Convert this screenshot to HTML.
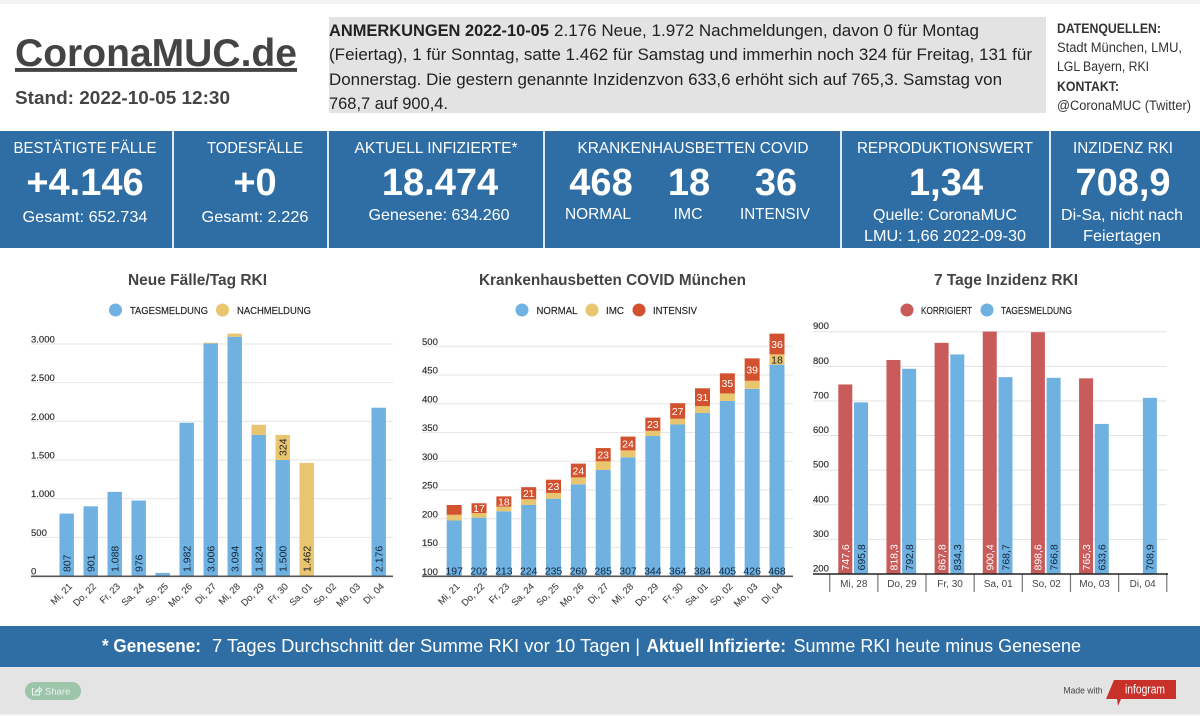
<!DOCTYPE html>
<html lang="de">
<head>
<meta charset="utf-8">
<title>CoronaMUC.de</title>
<style>
html,body{margin:0;padding:0;background:#fff;}
body{width:1200px;height:716px;overflow:hidden;position:relative;font-family:"Liberation Sans",sans-serif;}
svg{position:absolute;left:0;top:0;display:block;}
.hw{font-size:16px;fill:#fff;text-anchor:middle;}
.big{font-size:38px;font-weight:700;fill:#fff;text-anchor:middle;}
.note{font-size:17px;fill:#222;}
.src{font-size:13.5px;fill:#333;}
.ttl{font-size:16px;font-weight:700;fill:#444;text-anchor:middle;}
.leg{font-size:10px;fill:#222;stroke:#222;stroke-width:.15px;}
.yt{font-size:9.5px;fill:#333;stroke:#333;stroke-width:.2px;}
.xt{font-size:9.5px;fill:#444;stroke:#444;stroke-width:.1px;}
.val{font-size:10.5px;}
</style>
</head>
<body>
<svg id="stage" width="1200" height="716" viewBox="0 0 1200 716" xmlns="http://www.w3.org/2000/svg">
  <rect x="0" y="0" width="1200" height="4" fill="#f3f3f3"/>

  <g>
    <text x="15" y="66" font-size="38.8" font-weight="700" fill="#444" text-decoration="underline" textLength="282">CoronaMUC.de</text>
    <text x="15" y="104" font-size="18" font-weight="700" fill="#444" textLength="215">Stand: 2022-10-05 12:30</text>
  </g>

  <g>
    <rect x="329" y="17" width="717" height="96" fill="#e3e3e3"/>
    <text class="note" x="329" y="36" font-weight="700" textLength="220">ANMERKUNGEN 2022-10-05</text>
    <text class="note" x="554" y="36" textLength="425">2.176 Neue, 1.972 Nachmeldungen, davon 0 für Montag</text>
    <text class="note" x="329" y="60" textLength="703">(Feiertag), 1 für Sonntag, satte 1.462 für Samstag und immerhin noch 324 für Freitag, 131 für</text>
    <text class="note" x="329" y="85" textLength="673">Donnerstag. Die gestern genannte Inzidenzvon 633,6 erhöht sich auf 765,3. Samstag von</text>
    <text class="note" x="329" y="109" textLength="119">768,7 auf 900,4.</text>
  </g>

  <g>
    <text class="src" x="1057" y="33" font-weight="700" fill="#222" textLength="104">DATENQUELLEN:</text>
    <text class="src" x="1057" y="52" textLength="125">Stadt München, LMU,</text>
    <text class="src" x="1057" y="71" textLength="92">LGL Bayern, RKI</text>
    <text class="src" x="1057" y="91" font-weight="700" fill="#222" textLength="62">KONTAKT:</text>
    <text class="src" x="1057" y="110" textLength="134">@CoronaMUC (Twitter)</text>
  </g>

  <g>
    <rect x="0" y="131" width="1200" height="117" fill="#2f6ea5"/>
    <rect x="172" y="131" width="2" height="117" fill="#dce8f2"/>
    <rect x="327" y="131" width="2" height="117" fill="#dce8f2"/>
    <rect x="543" y="131" width="2" height="117" fill="#dce8f2"/>
    <rect x="840" y="131" width="2" height="117" fill="#dce8f2"/>
    <rect x="1049" y="131" width="2" height="117" fill="#dce8f2"/>

    <g>
      <text class="hw" x="85" y="153" textLength="143">BESTÄTIGTE FÄLLE</text>
      <text class="big" x="85" y="195">+4.146</text>
      <text class="hw" x="85" y="222" textLength="125">Gesamt: 652.734</text>
    </g>
    <g>
      <text class="hw" x="255" y="153" textLength="96">TODESFÄLLE</text>
      <text class="big" x="255" y="195">+0</text>
      <text class="hw" x="255" y="222" textLength="107">Gesamt: 2.226</text>
    </g>
    <g>
      <text class="hw" x="436" y="153" textLength="163">AKTUELL INFIZIERTE*</text>
      <text class="big" x="440" y="195">18.474</text>
      <text class="hw" x="439" y="220" textLength="141">Genesene: 634.260</text>
    </g>
    <g>
      <text class="hw" x="693" y="153" textLength="231">KRANKENHAUSBETTEN COVID</text>
      <text class="big" x="601" y="195">468</text>
      <text class="big" x="689" y="195">18</text>
      <text class="big" x="776" y="195">36</text>
      <text class="hw" x="598" y="219" textLength="66">NORMAL</text>
      <text class="hw" x="688" y="219" textLength="29">IMC</text>
      <text class="hw" x="775" y="219" textLength="70">INTENSIV</text>
    </g>
    <g>
      <text class="hw" x="945" y="153" textLength="176">REPRODUKTIONSWERT</text>
      <text class="big" x="946" y="195">1,34</text>
      <text class="hw" x="945" y="220" textLength="144">Quelle: CoronaMUC</text>
      <text class="hw" x="945" y="241" textLength="162">LMU: 1,66 2022-09-30</text>
    </g>
    <g>
      <text class="hw" x="1123" y="153" textLength="100">INZIDENZ RKI</text>
      <text class="big" x="1123" y="195">708,9</text>
      <text class="hw" x="1122" y="220" textLength="122">Di-Sa, nicht nach</text>
      <text class="hw" x="1122" y="241" textLength="78">Feiertagen</text>
    </g>
  </g>

  <g id="chart-cases">
    <text class="ttl" x="197.5" y="285" textLength="139">Neue Fälle/Tag RKI</text>
    <circle cx="115.5" cy="310" r="6.5" fill="#6fb1e0"/>
    <text class="leg" x="130" y="314" textLength="78">TAGESMELDUNG</text>
    <circle cx="222.5" cy="310" r="6.5" fill="#e8c56e"/>
    <text class="leg" x="237" y="314" textLength="74">NACHMELDUNG</text>
  </g>

  <g id="chart-beds">
    <text class="ttl" x="612.5" y="285" textLength="267">Krankenhausbetten COVID München</text>
    <circle cx="522" cy="310" r="6.5" fill="#6fb1e0"/>
    <text class="leg" x="536.5" y="314" textLength="41">NORMAL</text>
    <circle cx="592" cy="310" r="6.5" fill="#e8c56e"/>
    <text class="leg" x="606" y="314" textLength="18">IMC</text>
    <circle cx="639" cy="310" r="6.5" fill="#d2512f"/>
    <text class="leg" x="653" y="314" textLength="44">INTENSIV</text>
  </g>

  <g id="chart-incidence">
    <text class="ttl" x="1006" y="285" textLength="144">7 Tage Inzidenz RKI</text>
    <circle cx="907" cy="310" r="6.5" fill="#c95c5a"/>
    <text class="leg" x="921" y="314" textLength="51">KORRIGIERT</text>
    <circle cx="987" cy="310" r="6.5" fill="#6fb1e0"/>
    <text class="leg" x="1001" y="314" textLength="71">TAGESMELDUNG</text>
  </g>

  <g>
    <rect x="0" y="626" width="1200" height="41" fill="#2f6ea5"/>
    <text x="102" y="652" font-size="18" font-weight="700" fill="#fff" textLength="99">* Genesene:</text>
    <text x="212" y="652" font-size="18" fill="#fff" textLength="428">7 Tages Durchschnitt der Summe RKI vor 10 Tagen |</text>
    <text x="646.5" y="652" font-size="18" font-weight="700" fill="#fff" textLength="139.5">Aktuell Infizierte:</text>
    <text x="793.5" y="652" font-size="18" fill="#fff" textLength="287.5">Summe RKI heute minus Genesene</text>
  </g>

  <g>
    <rect x="0" y="667" width="1200" height="47" fill="#e4e4e4"/>
    <rect x="0" y="714" width="1200" height="2" fill="#f3f3f3"/>
    <g>
      <rect x="25" y="682" width="56" height="18" rx="9" fill="#9cc5aa"/>
      <path d="M33.5 688.5h-1v6.5h7v-2M35.5 692c.5-2 2-3 4-3v-1.5l2.5 2.5-2.5 2.5v-1.8c-1.5 0-3 .3-4 1.8z" fill="none" stroke="#e9f3ec" stroke-width="1"/>
      <text x="45" y="694.5" font-size="9.5" fill="#e9f3ec">Share</text>
    </g>
    <text x="1063.5" y="693.5" font-size="9" fill="#444" textLength="39">Made with</text>
    <g>
      <polygon points="1114,680 1176,680 1176,699 1121,699 1118,706 1117,699 1106,699" fill="#c8302a"/>
      <text x="1125" y="693.5" font-size="13" fill="#fff" textLength="40">infogram</text>
    </g>
  </g>
</svg>

<script>
const NS = 'http://www.w3.org/2000/svg';

/* ---------- chart 1: new cases ---------- */
const casesDays = ['Mi, 21','Do, 22','Fr, 23','Sa, 24','So, 25','Mo, 26','Di, 27','Mi, 28','Do, 29','Fr, 30','Sa, 01','So, 02','Mo, 03','Di, 04'];
const casesDaily = [807,901,1088,976,40,1982,3006,3094,1824,1500,0,0,0,2176];
const casesLate = [0,0,0,0,0,0,10,40,131,324,1462,0,0,0];
const casesTicks = [0,500,1000,1500,2000,2500,3000];
const casesTickLabels = ['0','500','1.000','1.500','2.000','2.500','3.000'];
const casesDailyLabels = ['807','901','1.088','976','','1.982','3.006','3.094','1.824','1.500','','','','2.176'];
const casesLateLabels = ['','','','','','','','','','324','1.462','','',''];

/* ---------- chart 2: hospital beds ---------- */
const bedsDays = ['Mi, 21','Do, 22','Fr, 23','Sa, 24','So, 25','Mo, 26','Di, 27','Mi, 28','Do, 29','Fr, 30','Sa, 01','So, 02','Mo, 03','Di, 04'];
const bedsNormal = [197,202,213,224,235,260,285,307,344,364,384,405,426,468];
const bedsImc = [10,8,8,10,10,12,15,12,9,10,12,13,14,18];
const bedsIntensive = [17,17,18,21,23,24,23,24,23,27,31,35,39,36];
const bedsTicks = [100,150,200,250,300,350,400,450,500];
const bedsImcLabels = ['','','','','','','','','','','','','','18'];
const bedsIntensiveLabels = ['','17','18','21','23','24','23','24','23','27','31','35','39','36'];

/* ---------- chart 3: incidence ---------- */
const incidenceDays = ['Mi, 28','Do, 29','Fr, 30','Sa, 01','So, 02','Mo, 03','Di, 04'];
const incidenceCorrected = [747.6,818.3,867.8,900.4,898.6,765.3,null];
const incidenceDaily = [695.8,792.8,834.3,768.7,766.8,633.6,708.9];
const incidenceTicks = [200,300,400,500,600,700,800,900];

const BLUE = '#6fb1e0', YELLOW = '#e8c56e', ORANGE = '#d2512f', RED = '#c95c5a', INK = '#10263c';

document.querySelectorAll('text[textLength]').forEach(n => n.setAttribute('lengthAdjust', 'spacingAndGlyphs'));

function svgEl(tag, parent, attrs) {
  const node = document.createElementNS(NS, tag);
  for (const k in attrs) node.setAttribute(k, attrs[k]);
  parent.appendChild(node);
  return node;
}
function deFmt(v) { return v.toFixed(1).replace('.', ','); }

const yCases = v => 576 - v * (232 / 3000);
const xCases = i => 66.7 + i * 24;
const yBeds = v => 576.3 - (v - 100) * 0.575;
const xBeds = i => 454.2 + i * 24.83;
const yInc = v => 574 - (v - 200) * (242.3 / 700);
const xIncCat = i => 853.8 + i * 48.15;

function drawChart1() {
  const g = document.getElementById('chart-cases');
  casesTicks.forEach((t, i) => {
    const y = yCases(t);
    if (t > 0) {
      const grid = svgEl('line', g, {x1: 31, x2: 393, y1: y, y2: y, stroke: '#e6e6e6', 'stroke-width': 1});
      
      
    }
    const lab = svgEl('text', g, {x: 31, y: y - 1.5, class: 'yt'});
    lab.textContent = casesTickLabels[i];
    
    
  });
  casesDays.forEach((d, i) => {
    const cx = xCases(i);
    if (casesDaily[i] > 0) {
      const bar = svgEl('rect', g, {x: cx - 7.2, y: yCases(casesDaily[i]), width: 14.4, height: yCases(0) - yCases(casesDaily[i]), fill: BLUE});
      
      
    }
    if (casesLate[i] > 0) {
      const top = casesDaily[i] + casesLate[i];
      const bar = svgEl('rect', g, {x: cx - 7.2, y: yCases(top), width: 14.4, height: yCases(casesDaily[i]) - yCases(top), fill: YELLOW});
      
      
    }
    if (casesDailyLabels[i]) {
      const t = svgEl('text', g, {class: 'val', fill: INK, transform: 'translate(' + (cx + 3.8) + ',572) rotate(-90)'});
      t.textContent = casesDailyLabels[i];
      
      
    }
    if (casesLateLabels[i]) {
      const base = casesDaily[i] > 0 ? (yCases(casesDaily[i]) + yCases(casesDaily[i] + casesLate[i])) / 2 + 8.5 : 572;
      const t = svgEl('text', g, {class: 'val', fill: '#222', transform: 'translate(' + (cx + 3.8) + ',' + base + ') rotate(-90)'});
      t.textContent = casesLateLabels[i];
      
      
    }
    const xl = svgEl('text', g, {class: 'xt', 'text-anchor': 'end', transform: 'translate(' + (cx + 6) + ',587) rotate(-45)'});
    xl.textContent = d;
    
    
  });
  const axis = svgEl('line', g, {x1: 31, x2: 393, y1: 576.3, y2: 576.3, stroke: '#555', 'stroke-width': 1.6});
  
  
}

function drawChart2() {
  const g = document.getElementById('chart-beds');
  bedsTicks.forEach(t => {
    const y = yBeds(t);
    if (t > 100) {
      const grid = svgEl('line', g, {x1: 422, x2: 793, y1: y, y2: y, stroke: '#e6e6e6', 'stroke-width': 1});
      
      
    }
    const lab = svgEl('text', g, {x: 422, y: y - 1.5, class: 'yt'});
    lab.textContent = String(t);
    
    
  });
  bedsDays.forEach((d, i) => {
    const cx = xBeds(i);
    const a = bedsNormal[i], b = a + bedsImc[i], c = b + bedsIntensive[i];
    const s1 = svgEl('rect', g, {x: cx - 7.5, y: yBeds(a), width: 15, height: yBeds(100) - yBeds(a), fill: BLUE});
    
    
    const s2 = svgEl('rect', g, {x: cx - 7.5, y: yBeds(b), width: 15, height: yBeds(a) - yBeds(b), fill: YELLOW});
    
    
    const s3 = svgEl('rect', g, {x: cx - 7.5, y: yBeds(c), width: 15, height: yBeds(b) - yBeds(c), fill: ORANGE});
    
    
    const n = svgEl('text', g, {class: 'val', x: cx, y: 574.5, fill: INK, 'text-anchor': 'middle'});
    n.textContent = String(bedsNormal[i]);
    
    
    if (bedsImcLabels[i]) {
      const m = svgEl('text', g, {class: 'val', x: cx, y: (yBeds(a) + yBeds(b)) / 2 + 3.8, fill: '#222', 'text-anchor': 'middle'});
      m.textContent = bedsImcLabels[i];
      
      
    }
    if (bedsIntensiveLabels[i]) {
      const r = svgEl('text', g, {class: 'val', x: cx, y: (yBeds(b) + yBeds(c)) / 2 + 3.8, fill: '#fff', 'text-anchor': 'middle'});
      r.textContent = bedsIntensiveLabels[i];
      
      
    }
    const xl = svgEl('text', g, {class: 'xt', 'text-anchor': 'end', transform: 'translate(' + (cx + 6) + ',587) rotate(-45)'});
    xl.textContent = d;
    
    
  });
  const axis = svgEl('line', g, {x1: 422, x2: 793, y1: 576.3, y2: 576.3, stroke: '#555', 'stroke-width': 1.6});
  
  
}

function drawChart3() {
  const g = document.getElementById('chart-incidence');
  incidenceTicks.forEach(t => {
    const y = yInc(t);
    if (t > 200) {
      const grid = svgEl('line', g, {x1: 813, x2: 1167, y1: y, y2: y, stroke: '#e3e3e3', 'stroke-width': 1});
      
      
    }
    const lab = svgEl('text', g, {x: 813, y: y - 2.5, class: 'yt'});
    lab.textContent = String(t);
    
    
  });
  incidenceDays.forEach((d, i) => {
    const cx = xIncCat(i);
    if (incidenceCorrected[i] !== null) {
      const top = yInc(incidenceCorrected[i]);
      const bar = svgEl('rect', g, {x: cx - 15.5, y: top, width: 14, height: yInc(200) - top, fill: RED});
      
      
      const t = svgEl('text', g, {class: 'val', fill: '#fff', transform: 'translate(' + (cx - 4.7) + ',570.5) rotate(-90)'});
      t.textContent = deFmt(incidenceCorrected[i]);
      
      
    }
    const top2 = yInc(incidenceDaily[i]);
    const bar2 = svgEl('rect', g, {x: cx + 0.2, y: top2, width: 14, height: yInc(200) - top2, fill: BLUE});
    
    
    const t2 = svgEl('text', g, {class: 'val', fill: INK, transform: 'translate(' + (cx + 11) + ',570.5) rotate(-90)'});
    t2.textContent = deFmt(incidenceDaily[i]);
    
    
    const xl = svgEl('text', g, {x: cx, y: 587, 'font-size': 10, fill: '#444', 'text-anchor': 'middle'});
    xl.textContent = d;
    
    
  });
  for (let i = 0; i <= incidenceDays.length; i++) {
    const tx = xIncCat(i) - 24.075;
    const tick = svgEl('line', g, {x1: tx, x2: tx, y1: 574, y2: 592, stroke: '#777', 'stroke-width': 1.2});
    
    
  }
  const axis = svgEl('line', g, {x1: 813, x2: 1168, y1: 574, y2: 574, stroke: '#222', 'stroke-width': 1.6});
  
  
}

drawChart1();
drawChart2();
drawChart3();
</script>
</body>
</html>
